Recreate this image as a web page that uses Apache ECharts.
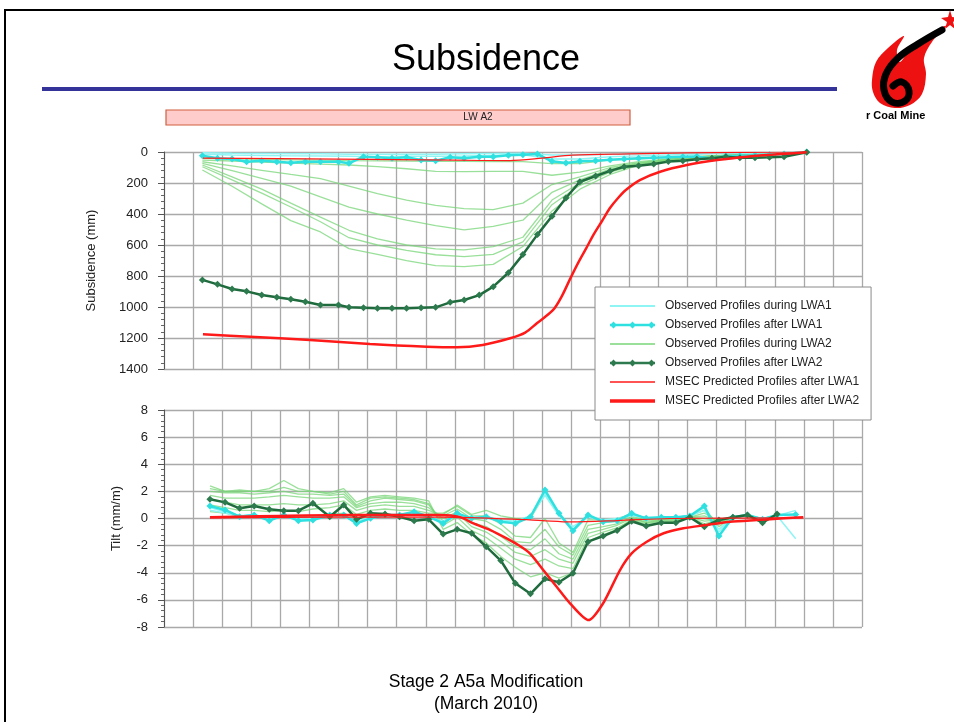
<!DOCTYPE html>
<html>
<head>
<meta charset="utf-8">
<script src="https://cdn.jsdelivr.net/npm/echarts@6/dist/echarts.min.js"></script>
<style>
html,body{margin:0;padding:0;background:#fff;}
#chart{width:954px;height:722px;}
</style>
</head>
<body>
<div id="chart"></div>
<script>
// ---------- DATA ----------
// survey peg chainages (m) along the line
const pegs = [66, 92, 117, 142, 168, 194, 218, 243, 269, 300, 318, 343, 367, 392, 417, 442, 467, 492, 516, 542, 566, 592, 617, 642, 667, 691, 715, 742, 767, 791, 816, 842, 867, 892, 916, 942, 966, 990, 1016, 1041, 1066, 1105];
// coarser pegs used for the "during" profiles
const nodes = [66, 117, 168, 218, 269, 318, 367, 417, 467, 516, 566, 617, 667, 715, 767, 816, 867, 916, 966, 1016, 1066, 1105];
// tilt bay mid-points (m)
const tiltX = [79, 105, 130, 155, 181, 206, 231, 256, 285, 309, 331, 355, 380, 405, 430, 455, 480, 504, 529, 554, 579, 604, 630, 655, 679, 703, 729, 755, 779, 804, 829, 855, 880, 904, 929, 954, 978, 1003, 1029, 1054, 1086];

// Subsidence (mm)
const subsDuringLWA1_a = [5, 8, 10, 12, 12, 14, 15, 14, 14, 12, 10, 8, 20, 20, 15, 12, 10, 8, 6, 4, 2, 0];
const subsDuringLWA1_b = [15, 20, 22, 25, 26, 28, 30, 28, 28, 26, 22, 18, 45, 45, 30, 25, 20, 15, 10, 6, 3, 0];
const subsAfterLWA1 = [24, 41, 45, 63, 56, 63, 69, 63, 63, 63, 73, 30, 34, 41, 34, 52, 56, 34, 41, 30, 30, 21, 18, 13, 60, 71, 60, 56, 50, 45, 40, 37, 34, 31, 29, 42, 26, 24, 21, 17, 13, 0];
const subsDuringLWA2_1 = [116, 221, 335, 443, 516, 623, 661, 701, 733, 740, 725, 610, 380, 240, 145, 85, 58, 42, 28, 18, 10, 3];
const subsDuringLWA2_2 = [95, 180, 265, 355, 450, 553, 600, 635, 663, 675, 660, 580, 340, 215, 130, 80, 55, 40, 26, 17, 9, 3];
const subsDuringLWA2_3 = [84, 160, 240, 330, 420, 505, 560, 600, 625, 632, 610, 550, 310, 200, 120, 76, 53, 38, 25, 16, 9, 2];
const subsDuringLWA2_4 = [73, 120, 170, 220, 290, 355, 400, 440, 475, 503, 480, 440, 260, 180, 110, 72, 50, 36, 24, 15, 8, 2];
const subsDuringLWA2_5 = [63, 90, 118, 145, 172, 220, 268, 310, 345, 365, 372, 330, 210, 160, 100, 68, 48, 34, 22, 14, 8, 2];
const subsDuringLWA2_6 = [52, 58, 65, 72, 78, 84, 95, 108, 125, 127, 125, 125, 150, 130, 90, 62, 45, 32, 21, 13, 7, 2];
const subsDuringLWA2_7 = [41, 44, 47, 50, 52, 55, 57, 58, 60, 60, 62, 62, 75, 75, 50, 45, 35, 28, 20, 13, 7, 2];
const subsAfterLWA2 = [825, 854, 884, 899, 923, 937, 950, 966, 987, 987, 1002, 1005, 1008, 1008, 1008, 1005, 1002, 970, 955, 923, 869, 779, 662, 533, 415, 297, 192, 155, 122, 95, 88, 77, 62, 56, 47, 41, 30, 37, 37, 34, 30, 2];
const predLWA1X = [67, 300, 500, 595, 650, 702, 800, 900, 1000, 1105];
const predLWA1 = [40, 46, 53, 56, 40, 20, 12, 6, 3, 0];
const predLWA2X = [67, 148, 251, 354, 452, 504, 548, 595, 621, 641, 669, 684, 698, 712, 726, 739, 753, 767, 781, 794, 818, 853, 899, 951, 1002, 1054, 1105];
const predLWA2 = [1176, 1192, 1213, 1239, 1256, 1260, 1245, 1202, 1165, 1105, 1019, 930, 820, 715, 620, 530, 445, 360, 295, 245, 181, 127, 84, 52, 30, 15, 2];

// Tilt (mm/m)
const tiltDuringLWA1_a = [0.8, 0.5, 0.2, 0.3, -0.1, 0.3, -0.1, 0.0, 0.3, 0.2, -0.3, 0.0, 0.2, 0.3, 0.4, 0.1, -0.3, 0.3, 0.0, 0.1, -0.2, -0.3, 0.1, 1.9, 0.3, -0.8, 0.2, -0.2, -0.1, 0.3, 0.0, 0.1, 0.1, 0.2, 0.8, -1.0, 0.1, 0.2, 0.0, 0.2, -1.5];
const tiltDuringLWA1_b = [0.6, 0.4, 0.1, 0.2, 0.0, 0.2, 0.0, 0.1, 0.2, 0.1, -0.2, 0.1, 0.1, 0.2, 0.3, 0.1, -0.2, 0.2, 0.1, 0.1, -0.1, -0.2, 0.2, 1.7, 0.2, -0.6, 0.1, -0.1, 0.0, 0.2, 0.1, 0.1, 0.1, 0.2, 0.6, -0.8, 0.1, 0.2, 0.0, 0.2, 0.6];
const tiltAfterLWA1 = [0.92, 0.63, 0.13, 0.26, -0.16, 0.26, -0.16, -0.11, 0.26, 0.26, -0.36, 0.01, 0.26, 0.26, 0.5, 0.13, -0.36, 0.38, 0.01, 0.13, -0.24, -0.36, 0.13, 2.1, 0.38, -0.9, 0.26, -0.24, -0.16, 0.38, 0.01, 0.1, 0.1, 0.18, 0.92, -1.29, 0.1, 0.26, -0.06, 0.26, 0.3];
const tiltDuringLWA2_1 = [0.5, 0.4, 0.2, 0.2, 0.1, 0.2, 0.1, 0.2, 0.3, 0.4, 0.0, 0.2, 0.2, 0.2, 0.3, 0.2, 0.3, 1.0, 0.3, 0.6, 0.2, 0.0, 0.0, 1.8, 0.3, -0.9, 0.2, -0.2, -0.1, 0.4, 0.0, 0.1, 0.1, 0.2, 0.8, -0.6, 0.1, 0.2, 0.0, 0.2, null];
const tiltDuringLWA2_2 = [1.0, 0.8, 0.6, 0.6, 0.5, 0.6, 0.5, 0.7, 0.8, 1.0, 0.3, 0.6, 0.7, 0.6, 0.6, 0.4, 0.4, 0.9, 0.2, 0.2, -0.4, -1.3, -1.4, 0.0, -1.8, -2.5, -0.1, -0.1, 0.0, 0.3, -0.1, 0.0, 0.0, 0.2, 0.6, -0.4, 0.1, 0.2, -0.1, 0.2, null];
const tiltDuringLWA2_3 = [1.4, 1.2, 1.0, 1.0, 1.0, 1.1, 1.0, 1.0, 1.1, 1.3, 0.6, 0.9, 1.0, 0.9, 0.9, 0.6, 0.2, 0.7, 0.0, -0.2, -0.8, -1.7, -1.8, -0.8, -2.1, -2.7, -0.5, -0.3, -0.2, 0.2, -0.2, -0.1, -0.1, 0.1, 0.4, -0.3, 0.1, 0.2, -0.1, 0.2, null];
const tiltDuringLWA2_4 = [1.7, 1.5, 1.5, 1.5, 1.6, 1.7, 1.6, 1.5, 1.5, 1.6, 0.8, 1.1, 1.2, 1.2, 1.1, 0.8, 0.0, 0.5, -0.3, -0.6, -1.3, -2.1, -2.3, -1.5, -2.6, -3.0, -0.8, -0.6, -0.4, 0.1, -0.3, -0.1, -0.1, 0.1, 0.2, -0.2, 0.1, 0.2, -0.2, 0.3, null];
const tiltDuringLWA2_5 = [2.0, 1.9, 1.9, 1.8, 1.9, 2.0, 1.8, 1.8, 1.7, 1.8, 0.9, 1.3, 1.5, 1.4, 1.3, 1.0, -0.2, 0.4, -0.6, -1.0, -1.7, -2.5, -2.8, -2.3, -3.0, -3.3, -1.1, -0.8, -0.5, 0.0, -0.3, -0.2, -0.2, 0.1, 0.0, -0.2, 0.1, 0.2, -0.2, 0.3, null];
const tiltDuringLWA2_6 = [2.2, 2.0, 2.0, 2.0, 2.0, 2.3, 2.0, 2.0, 1.8, 2.0, 1.0, 1.5, 1.6, 1.5, 1.4, 1.1, -0.5, 0.1, -0.9, -1.4, -2.2, -3.0, -3.4, -3.0, -3.5, -3.7, -1.4, -1.0, -0.7, -0.1, -0.4, -0.2, -0.2, 0.1, -0.2, -0.1, 0.1, 0.2, -0.2, 0.3, null];
const tiltDuringLWA2_7 = [2.4, 2.0, 2.1, 2.0, 2.2, 2.8, 2.2, 2.0, 1.9, 2.2, 1.2, 1.6, 1.7, 1.6, 1.5, 1.3, -0.8, -0.3, -1.2, -1.8, -2.8, -3.6, -4.3, -4.0, -4.4, -4.0, -1.7, -1.2, -0.8, -0.1, -0.5, -0.3, -0.3, 0.1, -0.4, -0.1, 0.1, 0.2, -0.3, 0.3, null];
const tiltAfterLWA2 = [1.42, 1.19, 0.75, 0.92, 0.68, 0.58, 0.58, 1.12, 0.13, 1.0, -0.06, 0.38, 0.33, 0.13, -0.16, -0.06, -1.15, -0.8, -1.09, -2.08, -3.1, -4.78, -5.55, -4.45, -4.7, -4.04, -1.71, -1.29, -0.88, -0.2, -0.55, -0.31, -0.31, 0.09, -0.6, -0.11, 0.09, 0.26, -0.31, 0.33, null];
const predTiltLWA1X = [79, 300, 475, 600, 650, 700, 780, 870, 1099];
const predTiltLWA1 = [0.05, 0.1, 0.1, -0.05, -0.15, -0.25, -0.15, 0.0, 0.05];
const predTiltLWA2X = [79, 320, 475, 509, 532, 561, 589, 609, 629, 652, 675, 698, 730, 755, 784, 804, 830, 859, 893, 933, 973, 1019, 1065, 1099];
const predTiltLWA2 = [0.09, 0.26, 0.26, 0.1, -0.36, -0.85, -1.46, -1.95, -2.57, -3.8, -5.03, -6.25, -7.49, -6.25, -3.8, -2.57, -1.71, -1.09, -0.72, -0.48, -0.24, -0.11, 0.01, 0.09];

const subsTicks = [0, 1400, 200];
const tiltTicks = [-8, 8, 2];

const N_DUR1 = 'Observed Profiles during LWA1';
const N_AFT1 = 'Observed Profiles after LWA1';
const N_DUR2 = 'Observed Profiles during LWA2';
const N_AFT2 = 'Observed Profiles after LWA2';
const N_P1 = 'MSEC Predicted Profiles after LWA1';
const N_P2 = 'MSEC Predicted Profiles after LWA2';

// ---------- CHART ----------
const FONT = '"Liberation Sans", Arial, sans-serif';
const C_DUR1 = '#8ff4f4';
const C_AFT1 = '#2fe0e0';
const C_DUR2 = 'rgba(120,214,120,0.75)';
const C_AFT2 = '#1f6b3d';
const C_RED = '#ff1a1a';

function pairs(xs, ys) {
  const out = [];
  xs.forEach((x, i) => { if (ys[i] !== null && ys[i] !== undefined) out.push([x, ys[i]]); });
  return out;
}
function ser(name, xs, ys, gi, color, width, z, extra) {
  return Object.assign({
    type: 'line', name: name, xAxisIndex: gi, yAxisIndex: gi,
    data: pairs(xs, ys), symbol: 'none', z: z,
    lineStyle: { color: color, width: width },
    itemStyle: { color: color },
    animation: false, silent: true
  }, extra || {});
}
const mk = { symbol: 'diamond', symbolSize: 7, showSymbol: true };

const series = [];
[subsDuringLWA2_1, subsDuringLWA2_2, subsDuringLWA2_3, subsDuringLWA2_4, subsDuringLWA2_5, subsDuringLWA2_6, subsDuringLWA2_7]
  .forEach(a => series.push(ser(N_DUR2, nodes, a, 0, C_DUR2, 1.3, 2)));
[subsDuringLWA1_a, subsDuringLWA1_b].forEach(a => series.push(ser(N_DUR1, nodes, a, 0, C_DUR1, 1.5, 3)));
series.push(ser(N_AFT1, pegs, subsAfterLWA1, 0, C_AFT1, 2.5, 4, mk));
series.push(ser(N_AFT2, pegs, subsAfterLWA2, 0, C_AFT2, 2.5, 5, Object.assign({}, mk, {itemStyle:{color:'#2d7a4e'}})));
series.push(ser(N_P1, predLWA1X, predLWA1, 0, C_RED, 1.2, 6, { smooth: 0.3 }));
series.push(ser(N_P2, predLWA2X, predLWA2, 0, C_RED, 2.5, 7, { smooth: 0.3 }));

[tiltDuringLWA2_1, tiltDuringLWA2_2, tiltDuringLWA2_3, tiltDuringLWA2_4, tiltDuringLWA2_5, tiltDuringLWA2_6, tiltDuringLWA2_7]
  .forEach(a => series.push(ser(N_DUR2, tiltX, a, 1, C_DUR2, 1.3, 2)));
[tiltDuringLWA1_a, tiltDuringLWA1_b].forEach(a => series.push(ser(N_DUR1, tiltX, a, 1, C_DUR1, 1.5, 3)));
series.push(ser(N_AFT1, tiltX, tiltAfterLWA1, 1, C_AFT1, 2.5, 4, mk));
series.push(ser(N_AFT2, tiltX, tiltAfterLWA2, 1, C_AFT2, 2.5, 5, Object.assign({}, mk, {itemStyle:{color:'#2d7a4e'}})));
series.push(ser(N_P1, predTiltLWA1X, predTiltLWA1, 1, C_RED, 1.2, 6, { smooth: 0.3 }));
series.push(ser(N_P2, predTiltLWA2X, predTiltLWA2, 1, C_RED, 2.5, 7, { smooth: 0.25 }));

const gridLine = { lineStyle: { color: '#a9a9a9', width: 1.3 } };
function xAx(gi) {
  return { gridIndex: gi, type: 'value', min: 0, max: 1200, interval: 50,
    axisLabel: { show: false }, axisTick: { show: false }, axisLine: { show: false }, splitLine: gridLine };
}
function yAx(gi, t, name, gap, inverse) {
  return { gridIndex: gi, type: 'value', min: t[0], max: t[1], interval: t[2], inverse: inverse,
    name: name, nameLocation: 'middle', nameGap: gap,
    nameTextStyle: { fontSize: 13, color: '#222', fontFamily: FONT },
    axisLine: { show: true, lineStyle: { color: '#555', width: 1 } },
    axisTick: { show: true, length: 6, lineStyle: { color: '#555' } },
    minorTick: { show: true, splitNumber: 5, length: 3, lineStyle: { color: '#666' } },
    axisLabel: { fontSize: 13, color: '#222', margin: 16, fontFamily: FONT, formatter: v => String(v) },
    splitLine: gridLine };
}

// legend icons (line + optional diamond markers), sized in a 45-wide box
const ICON_THIN = 'path://M0,0H45V2H0Z';
const ICON_HAIR = 'path://M0,0H45V1.4H0Z';
const ICON_THICK = 'path://M0,0H45V3.6H0Z';
const ICON_MARK = 'path://M0,4.8H45V7.2H0Z M3.5,2.5L7,6L3.5,9.5L0,6Z M22.5,2.5L26,6L22.5,9.5L19,6Z M41.5,2.5L45,6L41.5,9.5L38,6Z';

const chart = echarts.init(document.getElementById('chart'), null, { renderer: 'canvas' });
chart.setOption({
  animation: false,
  backgroundColor: '#fff',
  grid: [
    { left: 164, top: 152, width: 698, height: 217 },
    { left: 164, top: 410, width: 698, height: 217 }
  ],
  xAxis: [xAx(0), xAx(1)],
  yAxis: [yAx(0, subsTicks, 'Subsidence (mm)', 66, true), yAx(1, tiltTicks, 'Tilt (mm/m)', 41, false)],
  legend: {
    orient: 'vertical', left: 595, top: 287, itemWidth: 45, itemHeight: 12, itemGap: 7,
    padding: [13, 12, 13, 15], backgroundColor: '#fff', borderColor: '#8a8a8a', borderWidth: 1,
    textStyle: { fontSize: 12, color: '#222', fontFamily: FONT, padding: [0, 0, 0, 5] },
    selectedMode: false, z: 10,
    data: [
      { name: N_DUR1, icon: ICON_THIN },
      { name: N_AFT1, icon: ICON_MARK },
      { name: N_DUR2, icon: ICON_THIN },
      { name: N_AFT2, icon: ICON_MARK },
      { name: N_P1, icon: ICON_HAIR },
      { name: N_P2, icon: ICON_THICK }
    ]
  },
  series: series,
  graphic: [
    { type: 'rect', silent: true, z: 100, shape: { x: 5, y: 10, width: 980, height: 740 }, style: { fill: 'none', stroke: '#000', lineWidth: 2 } },
    { type: 'text', silent: true, z: 100, style: { text: 'Subsidence', x: 486, y: 60, align: 'center', verticalAlign: 'middle', font: '36px ' + FONT, fill: '#000' } },
    { type: 'rect', silent: true, z: 100, shape: { x: 42, y: 87, width: 795, height: 4 }, style: { fill: '#333399' } },
    { type: 'rect', silent: true, z: 100, shape: { x: 166, y: 110, width: 464, height: 15 }, style: { fill: '#ffcccc', stroke: '#cf5f3f', lineWidth: 1.2 } },
    { type: 'text', silent: true, z: 101, style: { text: 'LW A2', x: 478, y: 117.5, align: 'center', verticalAlign: 'middle', font: '10px ' + FONT, fill: '#222' } },
    { type: 'polygon', silent: true, z: 100, shape: { smooth: 0.35, points: [[872,80],[876,62],[888,48],[904,36],[897,50],[900,62],[912,46],[928,35],[946,26],[932,42],[924,58],[926,74],[922,94],[910,105],[895,108],[880,103],[873,92]] }, style: { fill: '#ee1111' } },
    { type: 'polyline', silent: true, z: 101, shape: { smooth: 0.4, points: [[942,30],[918,44],[898,58],[886,74],[884,90],[892,102],[905,101],[909,91],[902,82],[893,86]] }, style: { fill: null, stroke: '#000', lineWidth: 7, lineCap: 'round' } },
    { type: 'polygon', silent: true, z: 100, shape: { points: [[950,10],[952,17],[959,18],[953,22],[955,29],[950,25],[945,29],[947,22],[941,18],[948,17]] }, style: { fill: '#ee1111' } },
    { type: 'text', silent: true, z: 100, style: { text: 'r Coal Mine', x: 866, y: 116, align: 'left', verticalAlign: 'middle', font: 'bold 11px ' + FONT, fill: '#000' } },
    { type: 'text', silent: true, z: 100, style: { text: 'Stage 2 A5a Modification', x: 486, y: 682, align: 'center', verticalAlign: 'middle', font: '17.5px ' + FONT, fill: '#000' } },
    { type: 'text', silent: true, z: 100, style: { text: '(March 2010)', x: 486, y: 704, align: 'center', verticalAlign: 'middle', font: '17.5px ' + FONT, fill: '#000' } }
  ]
});
</script>
</body>
</html>
